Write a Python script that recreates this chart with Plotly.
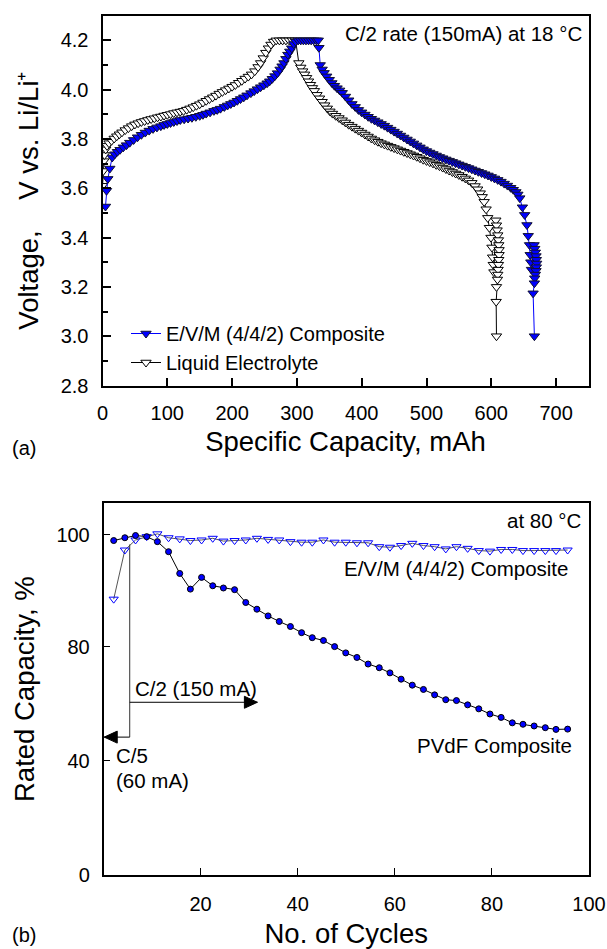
import plotly.graph_objects as go

# ---------------- panel (a): voltage profiles at C/2, 18 oC ----------------
liq_cap = [0, 1, 2, 3, 5, 7, 10, 14, 18, 22, 26, 30, 35, 40, 45, 50, 55, 60, 65, 70,
           75, 80, 85, 90, 95, 100, 105, 110, 115, 120, 125, 130, 135, 140, 145, 150,
           155, 160, 165, 170, 175, 180, 185, 190, 195, 200, 205, 210, 215, 220, 225,
           230, 235, 240, 244, 248, 252, 256, 260, 264, 268, 273, 278, 283, 288, 293, 298,
           303, 306, 309, 312, 315, 318, 321, 324, 327, 331, 335, 339, 343, 347, 351, 355,
           360, 365, 370, 375, 380, 385, 390, 395, 400, 405, 410, 415, 420, 425, 430, 435,
           440, 445, 450, 455, 460, 465, 470, 475, 480, 485, 490, 495, 500, 505, 510, 515,
           520, 525, 530, 535, 540, 545, 550, 555, 560, 565, 570, 575, 579, 583, 586, 589,
           592, 594.5, 597, 599.5, 601, 602, 603, 604,
           607, 608, 609, 610, 611, 611.5, 612, 612, 611.5, 611, 610.5, 610, 609.5, 608,
           607.5, 608]
liq_v = [3.61, 3.67, 3.71, 3.735, 3.758, 3.772, 3.783, 3.793, 3.802, 3.811, 3.819, 3.827,
         3.836, 3.844, 3.852, 3.859, 3.864, 3.869, 3.873, 3.877, 3.881, 3.884, 3.888, 3.891,
         3.895, 3.898, 3.901, 3.905, 3.908, 3.911, 3.914, 3.919, 3.924, 3.929, 3.935, 3.941,
         3.948, 3.955, 3.962, 3.969, 3.976, 3.984, 3.991, 3.998, 4.005, 4.012, 4.019, 4.028,
         4.036, 4.045, 4.053, 4.062, 4.075, 4.092, 4.108, 4.128, 4.150, 4.168, 4.183, 4.195,
         4.2, 4.2, 4.2, 4.2, 4.2, 4.2, 4.2,
         4.108, 4.09, 4.075, 4.062, 4.048, 4.034, 4.02, 4.007, 3.995, 3.979, 3.965, 3.951,
         3.937, 3.924, 3.912, 3.903, 3.894, 3.885, 3.876, 3.867, 3.858, 3.85, 3.842, 3.834,
         3.826, 3.818, 3.81, 3.802, 3.795, 3.789, 3.783, 3.778, 3.773, 3.768, 3.763, 3.758,
         3.753, 3.748, 3.743, 3.738, 3.733, 3.728, 3.722, 3.716, 3.711, 3.706, 3.701, 3.695,
         3.690, 3.684, 3.678, 3.672, 3.666, 3.660, 3.654, 3.647, 3.640, 3.632, 3.622, 3.609,
         3.596, 3.58, 3.565, 3.545, 3.515, 3.48, 3.44, 3.40, 3.36, 3.32, 3.29, 3.26,
         3.47, 3.45, 3.43, 3.41, 3.39, 3.37, 3.35, 3.33, 3.31, 3.29, 3.27, 3.25, 3.23, 3.20,
         3.14, 3.00]

evm_cap = [4.6, 6.2, 8.2, 11.3, 15, 19, 23, 27, 32, 37, 42, 48, 54, 60, 66, 72, 78, 84, 90,
           95, 100, 105, 110, 115, 120, 126, 132, 138, 144, 150, 155, 160, 166, 172, 177,
           182, 188, 193, 198, 203, 208, 213, 218, 223, 229, 234, 239, 244, 249, 254, 258,
           262, 266, 270, 274, 277, 280, 283, 286, 289, 292, 295, 298, 302, 306, 310, 314,
           318, 322, 326, 330, 333, 334, 336,
           339, 342, 346, 350, 354, 358, 362, 366, 370, 375, 380, 385, 390, 395, 400, 405,
           410, 415, 420, 425, 430, 435, 440, 445, 450, 455, 460, 465, 470, 475, 480, 485,
           490, 495, 500, 505, 510, 515, 520, 525, 530, 535, 540, 545, 550, 555, 560, 565,
           570, 575, 580, 585, 590, 595, 600, 605, 610, 615, 620, 625, 630, 634, 638, 641,
           644, 648, 651.5, 655, 657, 659, 660, 661, 662,
           666, 667, 668, 669, 669.5, 670, 669.5, 669, 668, 667, 666.5, 664.5, 666.5]
evm_v = [3.526, 3.59, 3.638, 3.68, 3.725, 3.738, 3.748, 3.756, 3.766, 3.775, 3.785, 3.796,
         3.807, 3.817, 3.826, 3.834, 3.841, 3.847, 3.852, 3.857, 3.861, 3.865, 3.869, 3.873,
         3.877, 3.880, 3.883, 3.886, 3.89, 3.894, 3.898, 3.903, 3.908, 3.914, 3.918, 3.923,
         3.93, 3.936, 3.942, 3.948, 3.955, 3.962, 3.969, 3.977, 3.986, 3.994, 4.002, 4.01,
         4.018, 4.026, 4.034, 4.044, 4.055, 4.067, 4.082, 4.095, 4.108, 4.125, 4.142, 4.155,
         4.168, 4.185, 4.195, 4.2, 4.2, 4.2, 4.2, 4.2, 4.2, 4.2, 4.2, 4.2, 4.17, 4.10,
         4.082, 4.068, 4.054, 4.04, 4.027, 4.016, 4.006, 3.997, 3.987, 3.972, 3.957, 3.942,
         3.930, 3.918, 3.908, 3.899, 3.89, 3.882, 3.875, 3.868, 3.861, 3.854, 3.846, 3.838,
         3.83, 3.822, 3.814, 3.806, 3.798, 3.79, 3.782, 3.774, 3.766, 3.758, 3.751, 3.745,
         3.739, 3.733, 3.727, 3.722, 3.717, 3.712, 3.707, 3.702, 3.697, 3.692, 3.687, 3.682,
         3.677, 3.672, 3.667, 3.662, 3.657, 3.652, 3.646, 3.640, 3.634, 3.627, 3.619, 3.611,
         3.602, 3.594, 3.585, 3.575, 3.56, 3.523, 3.492, 3.451, 3.407, 3.37, 3.33, 3.30, 3.27,
         3.37, 3.355, 3.34, 3.325, 3.31, 3.295, 3.28, 3.265, 3.25, 3.235, 3.215, 3.174, 3.00]

volt_ticks = [2.8, 3.0, 3.2, 3.4, 3.6, 3.8, 4.0, 4.2]
cap_ticks = [0, 100, 200, 300, 400, 500, 600, 700]

# ---------------- panel (b): cycling at 80 oC ----------------
cycles = [2.1, 4.4, 6.6, 8.9, 11.1, 13.4, 15.7, 17.9, 20.2, 22.5, 24.7, 27.0, 29.3, 31.6,
          33.9, 36.2, 38.5, 40.8, 43.0, 45.3, 47.6, 49.9, 52.2, 54.5, 56.8, 59.0, 61.3,
          63.6, 65.9, 68.2, 70.5, 72.7, 75.0, 77.3, 79.6, 81.9, 84.2, 86.4, 88.7, 91.0,
          93.2, 95.6]
pvdf_rated = [99.0, 99.5, 99.9, 99.7, 98.8, 97.0, 93.1, 90.3, 92.4, 90.9, 90.5, 90.2, 87.9,
              86.7, 85.5, 84.5, 83.6, 82.5, 81.6, 81.1, 80.0, 77.8, 76.2, 73.9, 72.6, 70.8,
              68.6, 66.5, 65.0, 63.1, 61.4, 61.1, 59.6, 58.2, 56.4, 55.2, 53.3, 52.8, 52.2,
              51.6, 51.0, 51.1]
evm_rated = [88.5, 97.3, 99.1, 99.7, 100.2, 99.5, 99.3, 99.0, 99.1, 99.4, 98.9, 99.0, 99.1,
             99.4, 99.2, 99.1, 98.8, 98.7, 98.7, 99.1, 98.7, 98.7, 98.6, 98.6, 97.9, 97.8,
             98.1, 98.5, 98.1, 97.9, 97.5, 97.9, 97.6, 97.2, 97.1, 97.4, 97.4, 97.2, 97.2,
             97.2, 97.2, 97.3]
rated_ticks = [0, 40, 80, 100]
cycle_ticks = [20, 40, 60, 80, 100]

# rate-change markers (cycle where C/5 -> C/2, arrow levels)
rate_switch_cycle = 5.4
c2_arrow_end, c2_level = 31.7, 60.5
c5_arrow_end, c5_level = 0.15, 48.3
switch_top = 98.3

# piecewise y scale of panel (b): 0-80 compressed, 80-100+ expanded
BREAK = 80.0
STRETCH = 1.9556


def disp(v):
    return v if v <= BREAK else BREAK + (v - BREAK) * STRETCH


W, H = 607, 949
FONT = "Liberation Sans, Arial, sans-serif"
NB = "\u00a0"


def px(x):
    return x / W


def py(y):
    return 1 - y / H


fig = go.Figure()

fig.add_trace(go.Scatter(
    x=liq_cap, y=liq_v, mode="lines+markers", name="Liquid Electrolyte", legendrank=2,
    line=dict(color="black", width=1),
    marker=dict(symbol="triangle-down", size=9, color="white",
                line=dict(color="black", width=1)),
    xaxis="x", yaxis="y"))
fig.add_trace(go.Scatter(
    x=evm_cap, y=evm_v, mode="lines+markers", name="E/V/M (4/4/2) Composite", legendrank=1,
    line=dict(color="blue", width=1),
    marker=dict(symbol="triangle-down", size=9, color="blue",
                line=dict(color="#101030", width=1)),
    xaxis="x", yaxis="y"))

fig.add_trace(go.Scatter(
    x=cycles, y=[disp(v) for v in evm_rated], mode="lines+markers", showlegend=False,
    line=dict(color="#555555", width=1),
    marker=dict(symbol="triangle-down-open", size=8, color="blue",
                line=dict(color="blue", width=1)),
    xaxis="x2", yaxis="y2"))
fig.add_trace(go.Scatter(
    x=cycles, y=[disp(v) for v in pvdf_rated], mode="lines+markers", showlegend=False,
    line=dict(color="black", width=1),
    marker=dict(symbol="circle", size=6, color="blue",
                line=dict(color="black", width=1)),
    xaxis="x2", yaxis="y2"))

axis_common = dict(showgrid=False, zeroline=False, showline=True, mirror=True,
                   linecolor="black", ticks="inside", tickcolor="black",
                   tickfont=dict(family=FONT, size=20, color="black"))
title_font = dict(family=FONT, size=27.5, color="black")

fig.update_layout(
    width=W, height=H, margin=dict(l=0, r=0, t=0, b=0),
    paper_bgcolor="white", plot_bgcolor="white",
    font=dict(family=FONT, color="black"),
    xaxis=dict(axis_common, domain=[px(102.5), px(588.5)], range=[0, 750],
               tickvals=cap_ticks, ticklen=8, tickwidth=1.5, linewidth=2,
               anchor="y", ticklabelstandoff=8, automargin=False,
               title=dict(text="Specific Capacity, mAh", font=title_font, standoff=9)),
    yaxis=dict(axis_common, domain=[py(385.5), py(15.7)], range=[2.8, 4.3],
               tickvals=volt_ticks, tickformat=".1f", ticklen=8, tickwidth=1.5, linewidth=2,
               minor=dict(dtick=0.1, tick0=2.8, ticks="inside", ticklen=5, tickwidth=1.5,
                          tickcolor="black"),
               anchor="x", ticklabelstandoff=8, automargin=False,
               title=dict(text="Voltage," + NB * 4 + "V vs. Li/Li\u207a",
                          font=title_font, standoff=14)),
    xaxis2=dict(axis_common, domain=[px(103.5), px(589)], range=[0, 100],
                tickvals=cycle_ticks, ticklen=7, tickwidth=1.2, linewidth=1.5,
                anchor="y2", ticklabelstandoff=10, automargin=False,
                title=dict(text="No. of Cycles", font=title_font, standoff=10)),
    yaxis2=dict(axis_common, domain=[py(875), py(503.3)], range=[0, 130.2],
                tickvals=[disp(v) for v in rated_ticks],
                ticktext=[str(v) for v in rated_ticks], ticklen=7, tickwidth=1.2,
                linewidth=1.5, anchor="x2", ticklabelstandoff=8, automargin=False,
                title=dict(text="Rated Capacity, %" + NB * 2, font=title_font, standoff=14)),
    legend=dict(x=px(126), y=py(314), xanchor="left", yanchor="top",
                bgcolor="rgba(0,0,0,0)", borderwidth=0,
                font=dict(family=FONT, size=20, color="black"),
                tracegroupgap=0, itemwidth=30),
    showlegend=True,
)

# rate-switch guide line and arrows in panel (b)
fig.add_shape(type="line", xref="x2", yref="y2",
              x0=rate_switch_cycle, x1=rate_switch_cycle,
              y0=disp(c5_level), y1=disp(switch_top),
              line=dict(color="#333333", width=1))
for tip, lvl, head in [(c2_arrow_end, c2_level, "M0,0 L-13,6 L-13,-6 Z"),
                       (c5_arrow_end, c5_level, "M0,0 L13,6 L13,-6 Z")]:
    fig.add_shape(type="line", xref="x2", yref="y2",
                  x0=rate_switch_cycle, x1=tip, y0=disp(lvl), y1=disp(lvl),
                  line=dict(color="black", width=1))
    fig.add_shape(type="path", xref="x2", yref="y2", xsizemode="pixel", ysizemode="pixel",
                  xanchor=tip, yanchor=disp(lvl), path=head,
                  fillcolor="black", line=dict(color="black", width=1))


def label(text, x, y, xanchor="center", size=20.5):
    fig.add_annotation(text=text, x=px(x), y=py(y), xref="paper", yref="paper",
                       xanchor=xanchor, yanchor="middle", showarrow=False,
                       font=dict(family=FONT, size=size, color="black"))


# panel (a) texts
label("C/2 rate (150mA) at 18 \u00b0C", 584, 33.5, "right")
label("(a)", 23.5, 448, size=20)

# panel (b) texts
label("at 80 \u00b0C", 582.5, 520, "right")
label("E/V/M (4/4/2) Composite", 570, 568, "right")
label("PVdF Composite", 573.5, 745.5, "right")
label("C/2 (150 mA)", 132.5, 688.5, "left")
label("C/5", 114, 755, "left")
label("(60 mA)", 114, 780, "left")
label("(b)", 23.5, 935, size=20)

fig.write_html("out.html")
